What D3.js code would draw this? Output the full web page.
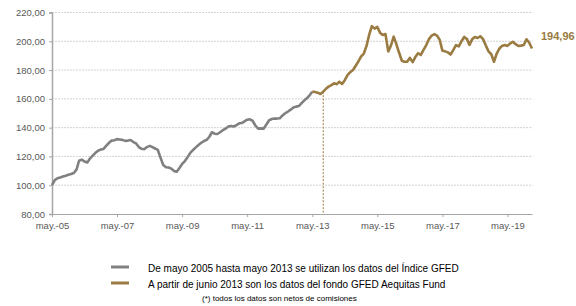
<!DOCTYPE html>
<html>
<head>
<meta charset="utf-8">
<script src="https://cdn.jsdelivr.net/npm/d3@7"></script>
<style>
  body { margin: 0; background: #fff; }
  svg text { font-family: "Liberation Sans", Arial, sans-serif; }
</style>
</head>
<body>
<svg id="chart" width="576" height="306"></svg>
<script>
// Monthly values, starting may-2005
const startMonth = new Date(2005, 4, 1);

// Índice GFED, may 2005 -> may 2013
const indexValues = [
  100, 103.5, 104.8, 105.3, 106, 106.6, 107.3, 107.8, 108.5, 111,
  117, 117.8, 116.5, 115.8, 118.5, 120.5, 122.5, 124, 124.8, 125.2,
  127.5, 129.5, 131, 131.2, 132, 131.8, 131.5, 130.8, 131, 131.4,
  130, 129, 126.5, 125.3, 125, 126.5, 127.3, 126.5, 125.5, 124.5,
  119, 114, 112.5, 112.3, 111.5, 109.8, 109.4, 112, 114.8, 116.8,
  119.5, 122.5, 124.5, 126.3, 128, 129.5, 130.7, 131.5, 133.5, 136.8,
  135.8, 135.6, 136.8, 138.2, 139.3, 140.8, 141.2, 140.8, 141.8, 143,
  143.2, 144.4, 145.5, 145.8, 144.8, 141.5, 139.3, 139.5, 139.3, 142,
  145, 146, 146.3, 146.3, 146.5, 148.5, 150, 151.2, 152.5, 154,
  154.6, 155, 157, 159, 160.4, 162.5, 165
];

// GFED Aequitas Fund, from may 2013 (shared point) -> feb 2020
const fundValues = [
  165, 164.8, 164.3, 163.4, 165, 167, 168.5, 169.5, 170.8, 170.2,
  171.9, 170.4, 173, 176.5, 178.5, 180, 183, 186, 189.5, 191.5,
  197, 205, 210.5, 208.8, 210, 206, 204.4, 205, 193, 197,
  203.2, 198, 192, 186.5, 185.8, 185.8, 188.5, 185.5, 189, 191.7,
  190.5, 194, 197.4, 201.5, 204, 205, 204, 201, 193.5, 193,
  192.3, 190.8, 194, 197.4, 196.4, 200, 203, 201.5, 197.5, 201.5,
  203, 202.3, 203.5, 201.5, 197, 193, 191, 185.8, 191.5, 195,
  196.8, 197.4, 196.8, 198.5, 199.7, 198, 196.7, 197, 197.4, 201.4,
  199, 194.96
];
const fundStartIndex = 96;
const markerIndex = 100;
const lastLabel = "194,96";

const yTicks = [80, 100, 120, 140, 160, 180, 200, 220];
const xTickLabels = ["may.-05", "may.-07", "may.-09", "may.-11", "may.-13", "may.-15", "may.-17", "may.-19"];
const legendLabels = [
  "De mayo 2005 hasta mayo 2013 se utilizan los datos del Índice GFED",
  "A partir de junio 2013 son los datos del fondo GFED Aequitas Fund"
];
const footnote = "(*) todos los datos son netos de comisiones";

const grey = "#808080";
const gold = "#9a7b41";
const textColor = "#595959";

const monthDate = i => d3.timeMonth.offset(startMonth, i);
const indexData = indexValues.map((v, i) => ({ date: monthDate(i), value: v }));
const fundData = fundValues.map((v, i) => ({ date: monthDate(fundStartIndex + i), value: v }));

const svg = d3.select("#chart");
const margin = { top: 12.5, left: 52, bottom: 92, right: 44 };
const width = +svg.attr("width");
const height = +svg.attr("height");

const x = d3.scaleTime()
  .domain([startMonth, monthDate(177)])
  .range([margin.left, width - margin.right]);
const y = d3.scaleLinear()
  .domain([80, 220])
  .range([height - margin.bottom, margin.top]);

// gridlines
svg.append("g").selectAll("line")
  .data(yTicks.filter(d => d > 80))
  .join("line")
  .attr("x1", x.range()[0]).attr("x2", x.range()[1] + 0.5)
  .attr("y1", d => y(d)).attr("y2", d => y(d))
  .attr("stroke", "#c8c8c8")
  .attr("stroke-width", 0.8)
  .attr("stroke-dasharray", "2,1");

// y axis
const yAxis = svg.append("g")
  .attr("transform", "translate(" + x.range()[0] + ",0)")
  .call(d3.axisLeft(y).tickValues(yTicks).tickSize(3).tickPadding(4)
    .tickFormat(d => d3.format(".2f")(d).replace(".", ",")));
yAxis.select(".domain").attr("stroke", "#a6a6a6").attr("stroke-width", 1.5);
yAxis.selectAll(".tick line").attr("stroke", "#a6a6a6");
yAxis.selectAll("text").attr("fill", textColor).attr("font-size", "9.5px");

// x axis
const xTickDates = xTickLabels.map((d, i) => monthDate(i * 24));
const xAxis = svg.append("g")
  .attr("transform", "translate(0," + y(80) + ")")
  .call(d3.axisBottom(x).tickValues(xTickDates).tickSize(3).tickSizeOuter(0).tickPadding(5)
    .tickFormat((d, i) => xTickLabels[i]));
xAxis.select(".domain").attr("stroke", "#a6a6a6").attr("stroke-width", 1.2);
xAxis.selectAll(".tick line").attr("stroke", "#a6a6a6");
xAxis.selectAll("text").attr("fill", textColor).attr("font-size", "9.5px");

// vertical marker
const markerValue = fundValues[markerIndex - fundStartIndex];
svg.append("line")
  .attr("x1", x(monthDate(markerIndex))).attr("x2", x(monthDate(markerIndex)))
  .attr("y1", y(markerValue)).attr("y2", y(80))
  .attr("stroke", gold)
  .attr("stroke-width", 1)
  .attr("stroke-dasharray", "2,1.5");

const line = d3.line().x(d => x(d.date)).y(d => y(d.value));

svg.append("path").datum(indexData)
  .attr("d", line)
  .attr("fill", "none")
  .attr("stroke", grey)
  .attr("stroke-width", 2.6)
  .attr("stroke-linejoin", "round");

svg.append("path").datum(fundData)
  .attr("d", line)
  .attr("fill", "none")
  .attr("stroke", gold)
  .attr("stroke-width", 2.6)
  .attr("stroke-linejoin", "round");

// end label
svg.append("text")
  .attr("x", 541)
  .attr("y", y(fundValues[fundValues.length - 1]) - 12)
  .attr("dy", "0.35em")
  .attr("fill", gold)
  .attr("font-size", "11px")
  .attr("font-weight", "bold")
  .text(lastLabel);

// legend
const legend = svg.append("g");
const legendColors = [grey, gold];
legendLabels.forEach((label, i) => {
  const ly = 272 + i * 16;
  legend.append("line")
    .attr("x1", 111).attr("x2", 129)
    .attr("y1", ly - 5).attr("y2", ly - 5)
    .attr("stroke", legendColors[i]).attr("stroke-width", 3);
  legend.append("text")
    .attr("x", 148).attr("y", ly)
    .attr("fill", "#000")
    .attr("font-size", "10px")
    .text(label);
});
legend.append("text")
  .attr("x", 202).attr("y", 301)
  .attr("fill", "#000")
  .attr("font-size", "8px")
  .text(footnote);
</script>
</body>
</html>
